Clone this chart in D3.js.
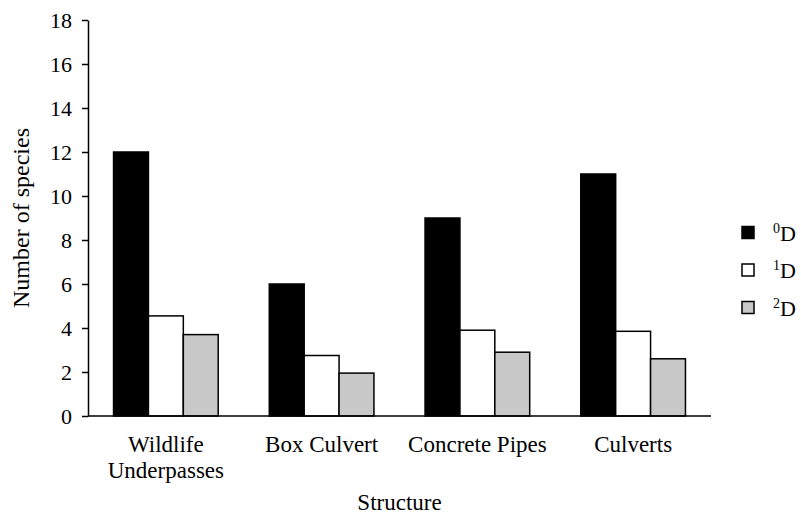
<!DOCTYPE html>
<html>
<head>
<meta charset="utf-8">
<script src="https://cdn.jsdelivr.net/npm/d3@7"></script>
<style>
  body { margin: 0; background: #fff; }
  text { font-family: "Liberation Serif", "Times New Roman", serif; fill: #000; }
</style>
</head>
<body>
<svg id="chart" width="801" height="517"></svg>
<script>
// categories (x groups), series and values
const structures = ["Wildlife\nUnderpasses", "Box Culvert", "Concrete Pipes", "Culverts"];
const seriesKeys = ["0D", "1D", "2D"];
const seriesSup = ["0", "1", "2"];
const seriesColors = ["#000000", "#ffffff", "#c8c8c8"];
const d0 = [12, 6, 9, 11];
const d1 = [4.55, 2.75, 3.9, 3.85];
const d2 = [3.7, 1.95, 2.9, 2.6];
const yTicks = [0, 2, 4, 6, 8, 10, 12, 14, 16, 18];

const values = [d0, d1, d2];
const data = structures.map((s, i) => ({
  structure: s,
  vals: seriesKeys.map((k, j) => ({ key: k, idx: j, value: values[j][i] }))
}));

const serif = "'Liberation Serif', 'Times New Roman', serif";
const svg = d3.select("#chart");

const x0 = d3.scaleBand()
  .domain(structures)
  .range([88, 711])
  .paddingInner(0.328)
  .paddingOuter(0.164);

const x1 = d3.scaleBand()
  .domain(seriesKeys)
  .range([0, x0.bandwidth()]);

const y = d3.scaleLinear()
  .domain([0, 18])
  .range([416, 20]);

// bars
const groups = svg.append("g")
  .selectAll("g")
  .data(data)
  .join("g")
  .attr("transform", d => `translate(${x0(d.structure)},0)`);

groups.selectAll("rect")
  .data(d => d.vals)
  .join("rect")
  .attr("x", d => x1(d.key))
  .attr("y", d => y(d.value))
  .attr("width", x1.bandwidth())
  .attr("height", d => y(0) - y(d.value))
  .attr("fill", d => seriesColors[d.idx])
  .attr("stroke", "#000")
  .attr("stroke-width", 1.5);

// y axis
const yAxis = svg.append("g")
  .attr("transform", "translate(88,0)")
  .call(d3.axisLeft(y).tickValues(yTicks).tickSize(6).tickSizeOuter(0).tickPadding(10))
  .attr("font-family", serif)
  .attr("font-size", 22);
yAxis.selectAll("path, line").attr("stroke", "#000").attr("stroke-width", 1.5);
yAxis.selectAll("text").attr("fill", "#000");

// x axis
const xAxis = svg.append("g")
  .attr("transform", "translate(0,416)")
  .call(d3.axisBottom(x0).tickSize(0).tickSizeOuter(0).tickFormat(""))
  .attr("font-family", serif)
  .attr("font-size", 23);
xAxis.select(".domain")
  .attr("stroke", "#000")
  .attr("stroke-width", 1.5)
  .attr("d", `M${x0.range()[0]},0H${x0.range()[1]}`);

// multi-line category labels
xAxis.selectAll(".tick").each(function(d) {
  const t = d3.select(this).append("text")
    .attr("text-anchor", "middle")
    .attr("fill", "#000");
  d.split("\n").forEach((line, i) => {
    t.append("tspan")
      .attr("x", 0)
      .attr("y", 36 + i * 26)
      .text(line);
  });
});

// axis titles
svg.append("text")
  .attr("transform", "translate(29,218) rotate(-90)")
  .attr("text-anchor", "middle")
  .style("font-size", "24px")
  .text("Number of species");

svg.append("text")
  .attr("x", (x0.range()[0] + x0.range()[1]) / 2)
  .attr("y", 510)
  .attr("text-anchor", "middle")
  .style("font-size", "23px")
  .text("Structure");

// legend
const legend = svg.append("g")
  .selectAll("g")
  .data(seriesKeys)
  .join("g")
  .attr("transform", (d, i) => `translate(742,${232.5 + i * 37.5})`);

legend.append("rect")
  .attr("x", 0)
  .attr("y", -6)
  .attr("width", 12)
  .attr("height", 12)
  .attr("fill", (d, i) => seriesColors[i])
  .attr("stroke", "#000")
  .attr("stroke-width", 1.5);

const lt = legend.append("text")
  .attr("x", 31)
  .attr("y", 8)
  .style("font-size", "22px");
lt.append("tspan")
  .attr("dy", -8)
  .style("font-size", "14px")
  .text((d, i) => seriesSup[i]);
lt.append("tspan")
  .attr("dy", 8)
  .text("D");
</script>
</body>
</html>
